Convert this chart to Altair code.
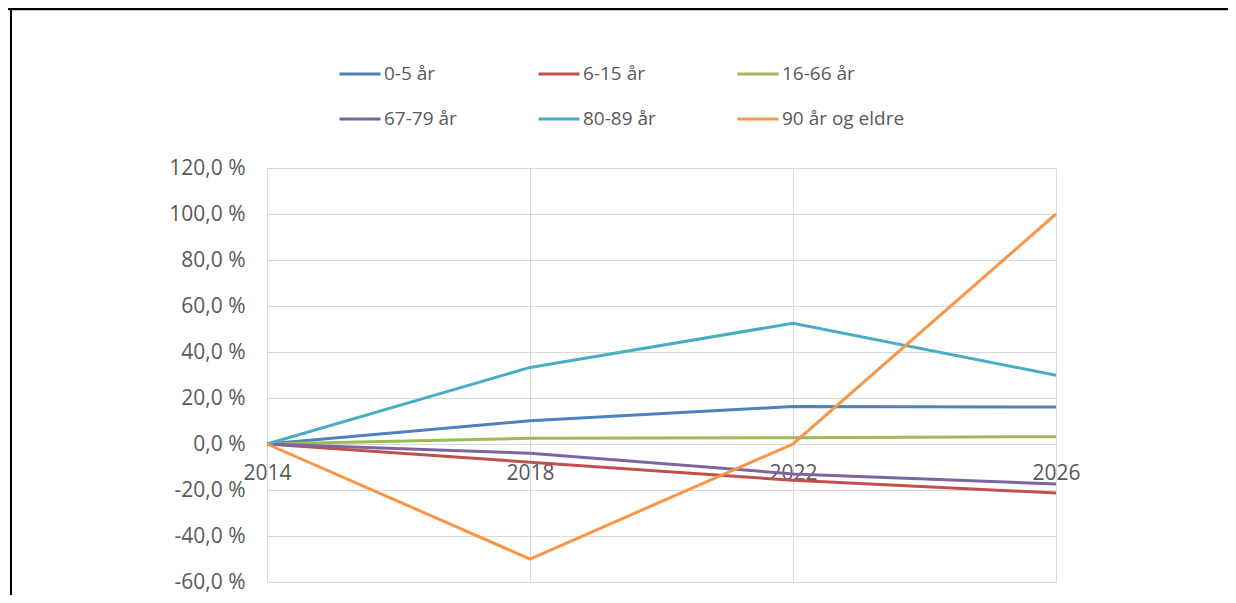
import altair as alt
import pandas as pd

years = [2014, 2018, 2022, 2026]
groups = ["0-5 år", "6-15 år", "16-66 år", "67-79 år", "80-89 år", "90 år og eldre"]
colors = ["#4F81BD", "#C0504D", "#9BBB59", "#8064A2", "#4BACC6", "#F79646"]

v_0_5 = [0.0, 10.1, 16.3, 16.1]
v_6_15 = [0.0, -7.9, -15.8, -21.3]
v_16_66 = [0.0, 2.5, 2.7, 3.2]
v_67_79 = [0.0, -4.0, -13.0, -17.4]
v_80_89 = [0.0, 33.3, 52.5, 29.9]
v_90 = [0.0, -50.0, 0.0, 100.0]

y_ticks = [-60, -40, -20, 0, 20, 40, 60, 80, 100, 120]

series = [v_0_5, v_6_15, v_16_66, v_67_79, v_80_89, v_90]
rows = []
for g, vals in zip(groups, series):
    for yr, v in zip(years, vals):
        rows.append({"year": yr, "group": g, "value": v})
df = pd.DataFrame(rows)

FONT = "Open Sans"
GRID = "#D9D9D9"
TXT = "#595959"

PAD_L, PAD_T = 259, 160
W, H = 789, 414

lines = alt.Chart(df).mark_line(strokeWidth=3).encode(
    x=alt.X("year:Q",
            scale=alt.Scale(domain=[2014, 2026], nice=False, zero=False),
            axis=alt.Axis(values=years, format="d", offset=-138, domain=False,
                          ticks=False, grid=True, gridColor=GRID, gridWidth=1,
                          labelFlush=False, labelPadding=18, labelFontSize=21,
                          labelColor=TXT, labelFont=FONT, title=None)),
    y=alt.Y("value:Q",
            scale=alt.Scale(domain=[-60, 120], nice=False, zero=False),
            axis=alt.Axis(values=y_ticks,
                          labelExpr="(datum.value < 0 ? '-' : '') + replace(format(abs(datum.value), '.1f'), '.', ',') + ' %'",
                          grid=True, gridColor=GRID, gridWidth=1,
                          domain=True, domainColor=GRID, domainWidth=1,
                          ticks=False, labelPadding=22, labelFontSize=21,
                          labelColor=TXT, labelFont=FONT, title=None)),
    color=alt.Color("group:N",
                    scale=alt.Scale(domain=groups, range=colors),
                    sort=groups,
                    legend=alt.Legend(title=None, orient="none", legendX=71, legendY=-116,
                                      direction="horizontal",
                                      columns=3, columnPadding=75, rowPadding=13,
                                      symbolType="stroke", symbolSize=1681,
                                      symbolStrokeWidth=3, labelOffset=2,
                                      labelFontSize=19, labelFont=FONT,
                                      labelColor=TXT, gridAlign="each")),
)

frame = pd.DataFrame([{"k": 0}])
top_line = alt.Chart(frame).mark_rule(color="black", strokeWidth=2.5).encode(
    x=alt.value(-PAD_L), x2=alt.value(1220 - PAD_L), y=alt.value(1 - PAD_T))
left_line = alt.Chart(frame).mark_rule(color="black", strokeWidth=2).encode(
    x=alt.value(3 - PAD_L), y=alt.value(-PAD_T), y2=alt.value(H + 13))

chart = alt.layer(lines, top_line, left_line).properties(
    width=W, height=H,
    padding={"left": PAD_L, "top": PAD_T, "right": 1220 - PAD_L - W, "bottom": 13},
    autosize=alt.AutoSizeParams(type="none"),
    background="white",
).configure_view(stroke=None)

chart.save("out.html", embed_options={"renderer": "svg", "actions": False})
